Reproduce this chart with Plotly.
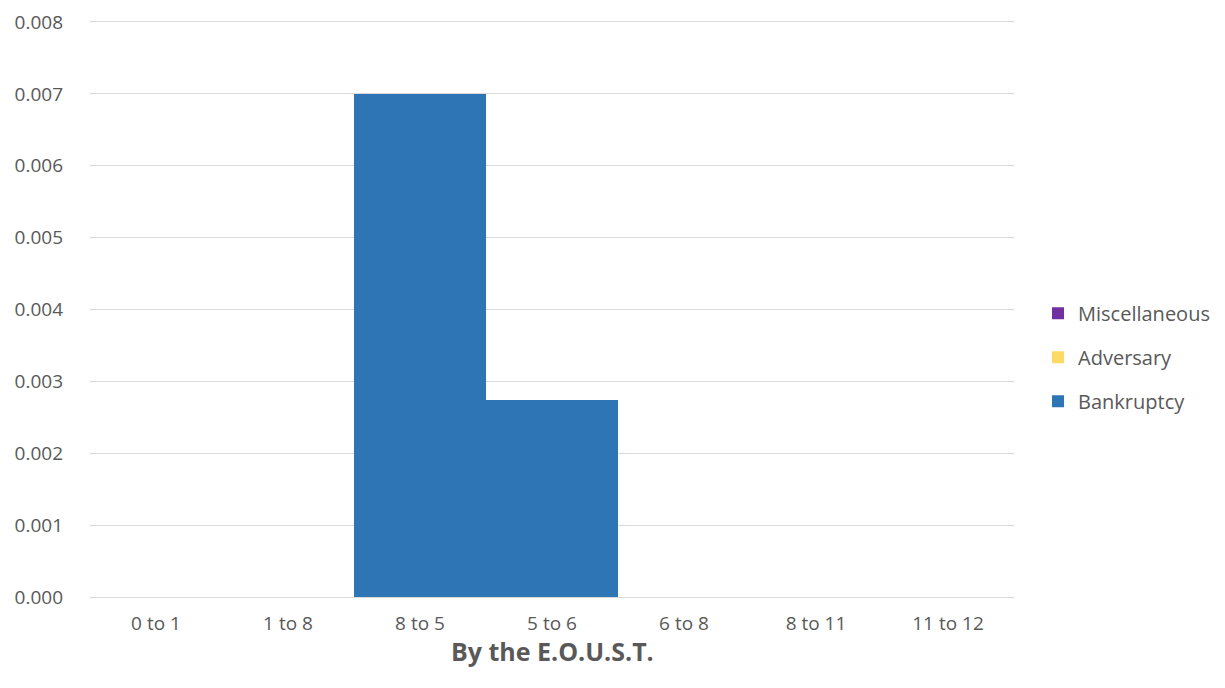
import plotly.graph_objects as go

categories = ["0 to 1", "1 to 8", "8 to 5", "5 to 6", "6 to 8", "8 to 11", "11 to 12"]
bankruptcy = [0, 0, 0.007, 0.00274, 0, 0, 0]
adversary = [0, 0, 0, 0, 0, 0, 0]
miscellaneous = [0, 0, 0, 0, 0, 0, 0]
y_ticks = [0.000, 0.001, 0.002, 0.003, 0.004, 0.005, 0.006, 0.007, 0.008]
x_title = "<b>By the E.O.U.S.T.</b>"

font_family = "Open Sans, Liberation Sans, sans-serif"

fig = go.Figure()
fig.add_trace(go.Bar(x=categories, y=bankruptcy, name="Bankruptcy", legendgroup="b", legendrank=3,
                     marker=dict(color="#2E75B6", line=dict(width=0))))
fig.add_trace(go.Bar(x=categories, y=adversary, name="Adversary", legendgroup="a", legendrank=2,
                     marker=dict(color="#FFD966", line=dict(width=0))))
fig.add_trace(go.Bar(x=categories, y=miscellaneous, name="Miscellaneous", legendgroup="m", legendrank=1,
                     marker=dict(color="#7030A0", line=dict(width=0))))

fig.update_layout(
    barmode="stack",
    bargap=0,
    width=1225,
    height=688,
    paper_bgcolor="white",
    plot_bgcolor="white",
    margin=dict(l=82, r=219, t=14, b=99, autoexpand=False),
    font=dict(family=font_family, size=19, color="#595959"),
    legend=dict(
        traceorder="grouped",
        x=1.026, y=0.417, xanchor="left", yanchor="middle",
        font=dict(size=20, color="#595959"),
        itemwidth=30,
        tracegroupgap=15,
    ),
    xaxis=dict(
        showgrid=False,
        showline=True,
        mirror=True,
        linecolor="#D9D9D9",
        linewidth=1,
        ticks="",
        ticklabelstandoff=9,
        tickfont=dict(size=19, color="#595959"),
    ),
    yaxis=dict(
        range=[0, 0.008],
        tickvals=y_ticks,
        tickformat=".3f",
        showgrid=True,
        gridcolor="#D9D9D9",
        gridwidth=1,
        zeroline=False,
        ticks="",
        ticklabelstandoff=26,
        tickfont=dict(size=19, color="#595959"),
    ),
    annotations=[dict(
        text=x_title, xref="paper", yref="paper", x=0.5, y=-0.094,
        xanchor="center", yanchor="middle", showarrow=False,
        font=dict(size=25, color="#595959", family=font_family),
    )],
)

fig.write_html("out.html")
